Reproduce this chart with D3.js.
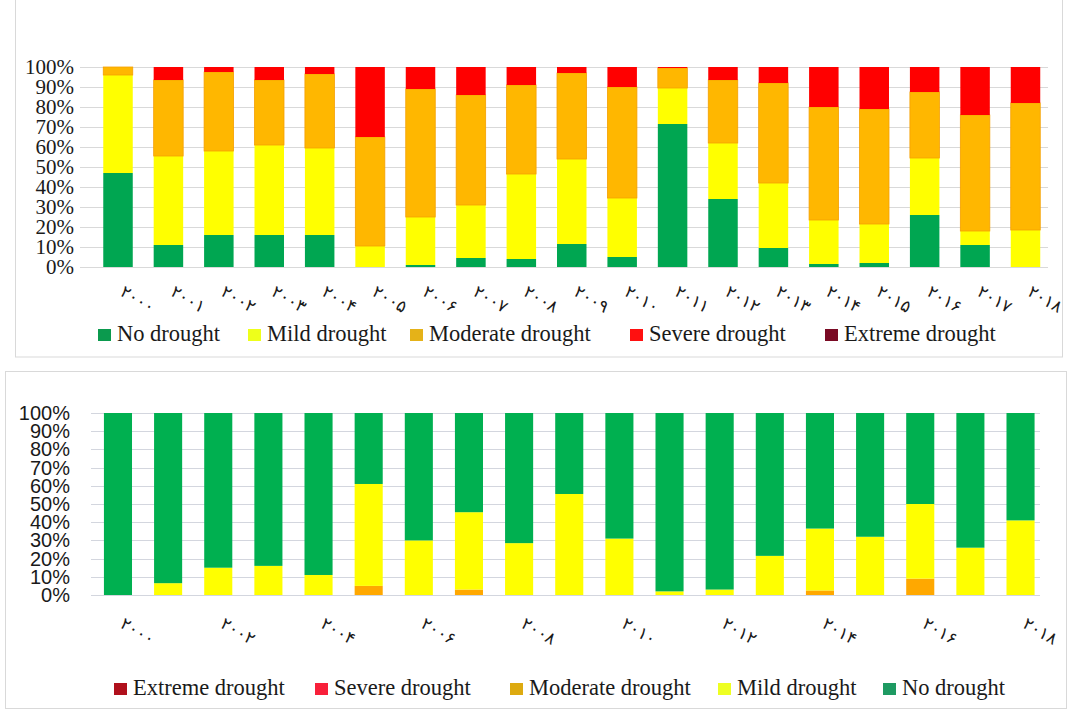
<!DOCTYPE html>
<html>
<head>
<meta charset="utf-8">
<script src="https://cdn.jsdelivr.net/npm/d3@7"></script>
<style>
  html, body { margin: 0; padding: 0; background: #fff; }
  svg { display: block; }
</style>
</head>
<body>
<svg id="chart" width="1074" height="713"></svg>
<script>
// ---------- DATA ----------
const years = ["۲۰۰۰","۲۰۰۱","۲۰۰۲","۲۰۰۳","۲۰۰۴","۲۰۰۵","۲۰۰۶","۲۰۰۷","۲۰۰۸","۲۰۰۹",
               "۲۰۱۰","۲۰۱۱","۲۰۱۲","۲۰۱۳","۲۰۱۴","۲۰۱۵","۲۰۱۶","۲۰۱۷","۲۰۱۸"];
const yTickLabels = ["0%","10%","20%","30%","40%","50%","60%","70%","80%","90%","100%"];
const seriesNames = ["No drought","Mild drought","Moderate drought","Severe drought","Extreme drought"];

// Top chart (percent)
const topNo       = [47, 11, 16, 16, 16, 0, 1, 4.5, 4, 11.5, 5, 71.5, 34, 9.5, 1.5, 2, 26, 11, 0];
const topMild     = [49, 44.5, 42, 45, 43.5, 10.5, 24, 26.5, 42.5, 42.5, 29.5, 18, 28, 32.5, 22, 19.5, 28.5, 7, 18.5];
const topModerate = [4, 38, 39.5, 32.5, 37, 54.5, 64, 55, 44.5, 43, 55.5, 10, 31.5, 50, 56.5, 57.5, 33, 58, 63.5];
const topSevere   = [0, 6.5, 2.5, 6.5, 3.5, 35, 11, 14, 9, 3, 10, 0.5, 6.5, 8, 20, 21, 12.5, 24, 18];
const topExtreme  = [0, 0, 0, 0, 0, 0, 0, 0, 0, 0, 0, 0, 0, 0, 0, 0, 0, 0, 0];

// Bottom chart (percent)
const botExtreme  = [0, 0, 0, 0, 0, 0, 0, 0, 0, 0, 0, 0, 0, 0, 0, 0, 0, 0, 0];
const botSevere   = [0, 0, 0, 0, 0, 0, 0, 0, 0, 0, 0, 0, 0, 0, 0, 0, 0, 0, 0];
const botModerate = [0, 0, 0, 0, 0, 5, 0, 3, 0, 0, 0, 0, 0, 0, 2.5, 0, 9, 0, 0];
const botMild     = [0, 6.5, 15, 16, 11, 56, 30, 42.5, 28.5, 55.5, 31, 2, 3, 21.5, 34, 32, 41, 26, 41];
const botNo       = [100, 93.5, 85, 84, 89, 39, 70, 54.5, 71.5, 44.5, 69, 98, 97, 78.5, 63.5, 68, 50, 74, 59];

// ---------- DRAW ----------
const svg = d3.select("#chart");
svg.append("rect").attr("width",1074).attr("height",713).attr("fill","#fff");

// panel frames
svg.append("rect").attr("x",15.5).attr("y",-1).attr("width",1047).attr("height",358)
   .attr("fill","none").attr("stroke","#d9d9d9");
svg.append("rect").attr("x",5.5).attr("y",371.5).attr("width",1061).attr("height",337)
   .attr("fill","none").attr("stroke","#d9d9d9");

function buildTable(arrs, keys) {
  return years.map((yr, i) => {
    const o = { year: yr };
    keys.forEach((k, j) => o[k] = arrs[j][i] / 100);
    return o;
  });
}

function drawPanel(cfg) {
  const g = svg.append("g");
  const x = d3.scaleBand().domain(years).range(cfg.xRange)
    .paddingInner(cfg.padInner).paddingOuter(cfg.padInner / 2);
  const y = d3.scaleLinear().domain([0, 1]).range(cfg.yRange);

  // gridlines
  g.append("g").selectAll("line").data(d3.range(0, 1.0001, 0.1)).join("line")
    .attr("x1", cfg.gridX[0]).attr("x2", cfg.gridX[1])
    .attr("y1", d => Math.round(y(d)) + 0.5).attr("y2", d => Math.round(y(d)) + 0.5)
    .attr("stroke", cfg.gridColor).attr("stroke-width", 1);

  // y axis labels
  const yAxis = d3.axisLeft(y).tickValues(d3.range(0, 11).map(d => d / 10))
    .tickFormat((d, i) => yTickLabels[i]).tickSize(0).tickPadding(0);
  const ya = g.append("g").attr("transform", `translate(${cfg.yLabelX},0)`).call(yAxis);
  ya.select(".domain").remove();
  ya.selectAll("text").attr("font-family", cfg.yFont).attr("font-size", cfg.yFontSize)
    .attr("fill", "#1a1a1a");

  // stacked bars
  const table = buildTable(cfg.arrays, cfg.keys);
  const stack = d3.stack().keys(cfg.keys)(table);
  g.append("g").selectAll("g").data(stack).join("g")
    .attr("fill", d => cfg.colors[d.key])
    .attr("stroke", d => cfg.strokes[d.key] || "none")
    .attr("stroke-width", 0.8)
    .selectAll("rect").data(d => d.filter(v => v[1] - v[0] > 0)).join("rect")
    .attr("x", d => x(d.data.year))
    .attr("width", x.bandwidth())
    .attr("y", d => y(d[1]))
    .attr("height", d => Math.max(0, y(d[0]) - y(d[1])));

  // x labels (rotated)
  const xa = g.append("g");
  xa.selectAll("text").data(years.filter((d, i) => i % cfg.labelEvery === 0)).join("text")
    .attr("transform", d => `translate(${x(d) + x.bandwidth() / 2 + 1},${cfg.xLabelY}) rotate(30)`)
    .attr("text-anchor", "start")
    .attr("font-family", "DejaVu Sans")
    .attr("font-size", 17)
    .attr("letter-spacing", 1)
    .attr("fill", "#1a1a1a")
    .text(d => d);

  // legend
  const lg = g.append("g");
  cfg.legend.forEach((it, i) => {
    lg.append("rect").attr("x", it.x).attr("y", cfg.legendY - 12).attr("width", 13).attr("height", 12)
      .attr("fill", cfg.legendColors[it.key]);
    lg.append("text").attr("x", it.x + 19).attr("y", cfg.legendY)
      .attr("font-family", "Liberation Serif").attr("font-size", 22.5)
      .attr("fill", "#1a1a1a").text(it.key);
  });
}

// Top panel
drawPanel({
  xRange: [92.8, 1050.7], padInner: 0.415, yRange: [267, 67],
  gridX: [80, 1048], gridColor: "#d9d9d9",
  yLabelX: 74, yFont: "Liberation Serif", yFontSize: 21,
  arrays: [topNo, topMild, topModerate, topSevere, topExtreme],
  keys: seriesNames,
  colors: { "No drought": "#00A651", "Mild drought": "#FFFF00", "Moderate drought": "#FFB700",
            "Severe drought": "#FF0000", "Extreme drought": "#7A0020" },
  strokes: { "Moderate drought": "#F5A000" },
  legendColors: { "No drought": "#0B9A4E", "Mild drought": "#EEFF1A", "Moderate drought": "#E5B218",
                  "Severe drought": "#FF1010", "Extreme drought": "#7A0A24" },
  labelEvery: 1, xLabelY: 295,
  legendY: 341,
  legend: [ {key: "No drought", x: 98}, {key: "Mild drought", x: 248}, {key: "Moderate drought", x: 410},
            {key: "Severe drought", x: 630}, {key: "Extreme drought", x: 825} ]
});

// Bottom panel
drawPanel({
  xRange: [92.9, 1045.6], padInner: 0.44, yRange: [595, 413],
  gridX: [91, 1040], gridColor: "#d3d6de",
  yLabelX: 70, yFont: "Liberation Sans", yFontSize: 20,
  arrays: [botExtreme, botSevere, botModerate, botMild, botNo],
  keys: ["Extreme drought","Severe drought","Moderate drought","Mild drought","No drought"],
  colors: { "No drought": "#00B050", "Mild drought": "#FFFF00", "Moderate drought": "#FFA800",
            "Severe drought": "#FF0000", "Extreme drought": "#C00000" },
  strokes: {},
  legendColors: { "No drought": "#1E9A62", "Mild drought": "#EEFF22", "Moderate drought": "#DDAA10",
                  "Severe drought": "#F8203A", "Extreme drought": "#B0101C" },
  labelEvery: 2, xLabelY: 627,
  legendY: 695,
  legend: [ {key: "Extreme drought", x: 114}, {key: "Severe drought", x: 315}, {key: "Moderate drought", x: 510},
            {key: "Mild drought", x: 718}, {key: "No drought", x: 883} ]
});
</script>
</body>
</html>
